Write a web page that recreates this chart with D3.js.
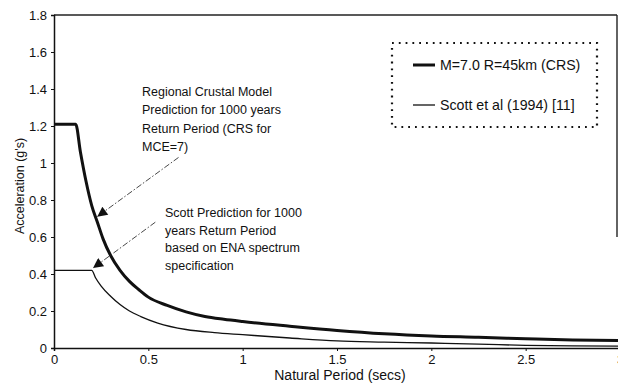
<!DOCTYPE html>
<html>
<head>
<meta charset="utf-8">
<script src="https://cdn.jsdelivr.net/npm/d3@7"></script>
<style>
  html, body { margin: 0; padding: 0; background: #fff; }
  svg { display: block; }
  text { font-family: "Liberation Sans", Arial, sans-serif; fill: #111; }
</style>
</head>
<body>
<svg id="chart" width="618" height="384"></svg>
<script>
// Spectral acceleration vs natural period
const crsPeriod = [0, 0.115, 0.14, 0.17, 0.2, 0.23, 0.26, 0.3, 0.35, 0.4, 0.45, 0.5, 0.6, 0.7, 0.8, 0.9, 1.0, 1.25, 1.5, 1.75, 2.0, 2.25, 2.5, 2.75, 3.0];
const crsAccel  = [1.21, 1.21, 1.06, 0.9, 0.77, 0.68, 0.59, 0.5, 0.42, 0.36, 0.315, 0.275, 0.23, 0.195, 0.17, 0.155, 0.143, 0.118, 0.095, 0.077, 0.065, 0.058, 0.05, 0.043, 0.04];

const scottPeriod = [0, 0.2, 0.22, 0.25, 0.3, 0.35, 0.4, 0.46, 0.55, 0.7, 0.85, 1.0, 1.25, 1.5, 1.75, 2.0, 2.25, 2.5, 2.75, 3.0];
const scottAccel  = [0.42, 0.42, 0.38, 0.335, 0.28, 0.235, 0.2, 0.17, 0.135, 0.1, 0.083, 0.072, 0.054, 0.038, 0.032, 0.027, 0.021, 0.014, 0.011, 0.01];

const xTicks = [0, 0.5, 1, 1.5, 2, 2.5, 3];
const yTicks = [0, 0.2, 0.4, 0.6, 0.8, 1, 1.2, 1.4, 1.6, 1.8];

const legendLabels = ["M=7.0 R=45km (CRS)", "Scott et al (1994) [11]"];

const crsNote = ["Regional Crustal Model", "Prediction for 1000 years", "Return Period (CRS for", "MCE=7)"];
const scottNote = ["Scott Prediction for 1000", "years Return Period", "based on ENA spectrum", "specification"];

// arrow [from, to] in data units
const crsArrow = [[0.66, 1.03], [0.229, 0.71]];
const scottArrow = [[0.537, 0.68], [0.207, 0.432]];

const svg = d3.select("#chart");
const x = d3.scaleLinear().domain([0, 3]).range([54, 620]);
const y = d3.scaleLinear().domain([0, 1.8]).range([348, 15]);

const fmt = d => (Math.round(d * 10) / 10).toString();

// frame
svg.append("line").attr("x1", 54).attr("x2", 617).attr("y1", 15).attr("y2", 15)
  .attr("stroke", "#222").attr("stroke-width", 1.4);
svg.append("line").attr("x1", 617).attr("x2", 617).attr("y1", 15).attr("y2", 237)
  .attr("stroke", "#222").attr("stroke-width", 1.4);

// axes
const yAxis = svg.append("g").attr("transform", "translate(54,0)")
  .call(d3.axisLeft(y).tickValues(yTicks).tickFormat(fmt).tickSize(3).tickPadding(4));
const xAxis = svg.append("g").attr("transform", "translate(0,348)")
  .call(d3.axisBottom(x).tickValues(xTicks).tickFormat(fmt).tickSize(3).tickPadding(4));
[yAxis, xAxis].forEach(g => {
  g.select(".domain").attr("stroke", "#111").attr("stroke-width", 1.5);
  g.selectAll(".tick line").attr("stroke", "#111");
  g.selectAll(".tick text").style("font-size", "13px").style("font-family", "Liberation Sans, Arial, sans-serif").attr("fill", "#111");
});

// axis titles
svg.append("text").attr("x", 340).attr("y", 380).attr("text-anchor", "middle")
  .style("font-size", "14px").text("Natural Period (secs)");
svg.append("text").attr("transform", "translate(24,186) rotate(-90)").attr("text-anchor", "middle")
  .style("font-size", "12.5px").text("Acceleration (g's)");

// curves
const line = d3.line().x(d => x(d[0])).y(d => y(d[1])).curve(d3.curveMonotoneX);
const crs = crsPeriod.map((p, i) => [p, crsAccel[i]]);
const scott = scottPeriod.map((p, i) => [p, scottAccel[i]]);
svg.append("path").datum(crs).attr("d", line).attr("fill", "none")
  .attr("stroke", "#111").attr("stroke-width", 3);
svg.append("path").datum(scott).attr("d", line).attr("fill", "none")
  .attr("stroke", "#111").attr("stroke-width", 1.3);

// arrow heads
svg.append("defs").append("marker").attr("id", "tri")
  .attr("viewBox", "0 0 10 10").attr("refX", 10).attr("refY", 5)
  .attr("markerWidth", 13).attr("markerHeight", 10).attr("markerUnits", "userSpaceOnUse")
  .attr("orient", "auto")
  .append("path").attr("d", "M0,0 L10,5 L0,10 Z").attr("fill", "#111");

[crsArrow, scottArrow].forEach(a => {
  svg.append("line")
    .attr("x1", x(a[0][0])).attr("y1", y(a[0][1]))
    .attr("x2", x(a[1][0])).attr("y2", y(a[1][1]))
    .attr("stroke", "#333").attr("stroke-width", 0.9)
    .attr("stroke-dasharray", "6,2,1.5,2")
    .attr("marker-end", "url(#tri)");
});

// notes
function note(lines, x0, y0, dy) {
  const t = svg.append("text").style("font-size", "12.5px");
  lines.forEach((s, i) => t.append("tspan").attr("x", x0).attr("y", y0 + i * dy).text(s));
}
note(crsNote, 142, 96, 18.3);
note(scottNote, 165, 217, 17.7);

// legend
const lg = svg.append("g");
lg.append("rect").attr("x", 392).attr("y", 43).attr("width", 205).attr("height", 84)
  .attr("fill", "none").attr("stroke", "#111").attr("stroke-width", 2.2)
  .attr("stroke-dasharray", "1.8,5");
const legendWidths = [3, 1.3];
legendLabels.forEach((s, i) => {
  const ly = 65 + i * 40;
  lg.append("line").attr("x1", 413).attr("x2", 435).attr("y1", ly).attr("y2", ly)
    .attr("stroke", "#111").attr("stroke-width", legendWidths[i]);
  lg.append("text").attr("x", 440).attr("y", ly + 5).style("font-size", "14.2px").text(s);
});
</script>
</body>
</html>
